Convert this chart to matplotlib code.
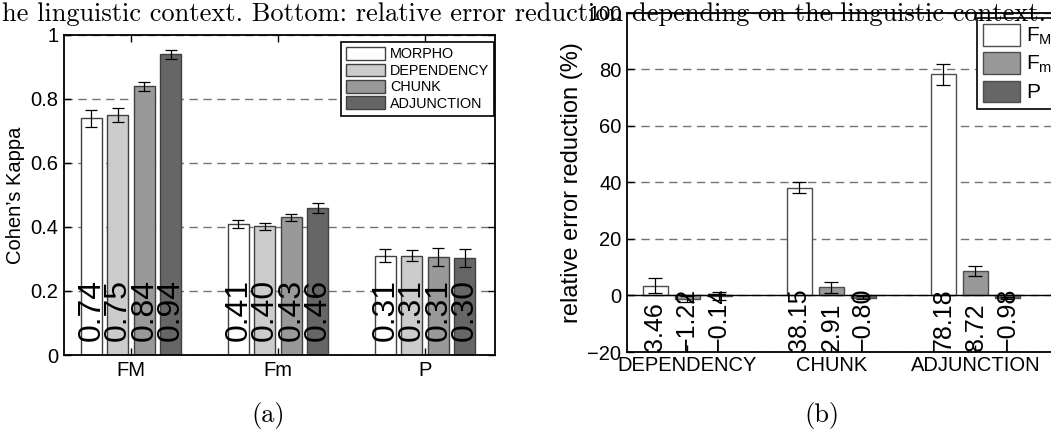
import numpy as np
import matplotlib
matplotlib.use("Agg")
import matplotlib.pyplot as plt

plt.rcParams['font.family'] = ['Liberation Sans', 'DejaVu Sans']
plt.rcParams['mathtext.fontset'] = 'custom'
plt.rcParams['mathtext.rm'] = 'Liberation Sans'

# (a) Cohen's kappa per feature set
groups_a = ['FM', 'Fm', 'P']
series_a = ['MORPHO', 'DEPENDENCY', 'CHUNK', 'ADJUNCTION']
morpho = [0.74, 0.41, 0.31]
dependency = [0.75, 0.403, 0.31]
chunk = [0.84, 0.43, 0.306]
adjunction = [0.94, 0.46, 0.303]
morpho_err = [0.026, 0.013, 0.02]
dependency_err = [0.023, 0.011, 0.017]
chunk_err = [0.014, 0.012, 0.027]
adjunction_err = [0.014, 0.015, 0.029]

# (b) relative error reduction
groups_b = ['DEPENDENCY', 'CHUNK', 'ADJUNCTION']
series_b = ['$\\mathregular{F_M}$', '$\\mathregular{F_m}$', 'P']
f_big = [3.46, 38.15, 78.18]
f_small = [-1.22, 2.91, 8.72]
p_vals = [-0.14, -0.80, -0.98]
f_big_err = [2.6, 1.9, 3.8]
f_small_err = [1.0, 1.9, 1.7]
p_err = [1.5, 0.6, 0.3]

caption = "he linguistic context. Bottom: relative error reduction depending on the linguistic context."

W, H = 1051, 440
fig = plt.figure(figsize=(W / 100, H / 100), dpi=100)


def fmt(v):
    return f"{v:.2f}".replace('-', '\u2212')


def style_axes(ax):
    for s in ax.spines.values():
        s.set_linewidth(1.3)
    ax.tick_params(direction='in', length=5, width=1, top=True, right=True,
                   labelsize=14.5, pad=4)
    ax.yaxis.grid(True, linestyle=(0, (6, 4)), color='0.45', linewidth=1)
    ax.set_axisbelow(True)


# ---- left panel
ax1 = fig.add_axes([64 / W, 85 / H, 431 / W, 320 / H])
colors_a = ['white', '0.8', '0.6', '0.4']
vals_a = [morpho, dependency, chunk, adjunction]
errs_a = [morpho_err, dependency_err, chunk_err, adjunction_err]
x = np.arange(1, len(groups_a) + 1)
step, width = 0.18, 0.143
for i, (name, v, e, c) in enumerate(zip(series_a, vals_a, errs_a, colors_a)):
    xs = x + (i - 1.5) * step
    ax1.bar(xs, v, width, color=c, edgecolor='0.25', linewidth=1, label=name)
    ax1.errorbar(xs, v, yerr=e, fmt='none', ecolor='black', elinewidth=0.9,
                 capsize=4, capthick=0.9)
    for xi, vi in zip(xs, v):
        ax1.text(xi, 0.045, fmt(vi), rotation=90, ha='center', va='bottom',
                 fontsize=23, zorder=5)
ax1.set_xlim(0.544, 3.476)
ax1.set_ylim(0, 1)
ax1.set_xticks(x)
ax1.set_xticklabels(groups_a)
ax1.set_yticks([0, 0.2, 0.4, 0.6, 0.8, 1])
ax1.set_yticklabels(['0', '0.2', '0.4', '0.6', '0.8', '1'])
style_axes(ax1)
ax1.set_ylabel("Cohen\u2019s Kappa", fontsize=14.5)
ax1.yaxis.set_label_coords(-0.0905, 0.5)
leg1 = ax1.legend(loc='upper right', bbox_to_anchor=(0.998, 0.978), borderaxespad=0,
                  fontsize=10.4, handlelength=2.7, handleheight=0.97, labelspacing=0.15,
                  handletextpad=0.35, borderpad=0.35, fancybox=False, edgecolor='black',
                  framealpha=1)
leg1.get_frame().set_linewidth(1.2)

# ---- right panel
ax2 = fig.add_axes([627 / W, 88 / H, 463 / W, 339.3 / H])
colors_b = ['white', '0.6', '0.4']
vals_b = [f_big, f_small, p_vals]
errs_b = [f_big_err, f_small_err, p_err]
xb = np.arange(1, len(groups_b) + 1)
step_b, width_b = 0.222, 0.174
for i, (name, v, e, c) in enumerate(zip(series_b, vals_b, errs_b, colors_b)):
    xs = xb + (i - 1) * step_b
    ax2.bar(xs, v, width_b, color=c, edgecolor='0.3', linewidth=1, label=name)
    ax2.errorbar(xs, v, yerr=e, fmt='none', ecolor='black', elinewidth=0.9,
                 capsize=5, capthick=0.9)
    for xi, vi in zip(xs, v):
        ax2.text(xi, -19.6, fmt(vi), rotation=90, ha='center', va='bottom',
                 fontsize=18, zorder=5)
ax2.axhline(0, color='black', linewidth=1, zorder=1.5)
ax2.set_xlim(0.583, 3.795)
ax2.set_ylim(-20, 100)
ax2.set_xticks(xb)
ax2.set_xticklabels(groups_b)
ax2.set_yticks([-20, 0, 20, 40, 60, 80, 100])
ax2.set_yticklabels(['\u221220', '0', '20', '40', '60', '80', '100'])
style_axes(ax2)
ax2.tick_params(axis='x', pad=3)
ax2.set_ylabel("relative error reduction (%)", fontsize=17)
ax2.yaxis.set_label_coords(-0.095, 0.5)
leg2 = fig.legend(*ax2.get_legend_handles_labels(), loc='upper left',
                  bbox_to_anchor=(977 / W, 1 - 18 / H), borderaxespad=0,
                  fontsize=15, handlelength=1.75, handleheight=1.2, labelspacing=0.25,
                  handletextpad=0.3, borderpad=0.3, fancybox=False, edgecolor='black',
                  framealpha=1)
leg2.get_frame().set_linewidth(1.2)

# caption fragment and sub-figure labels (serif, as in the paper)
fig.text(2 / W, 1 - 21 / H, caption, fontfamily='cmr10', fontsize=19,
         ha='left', va='baseline', zorder=10)
fig.text(268 / W, 1 - 415 / H, '(a)', fontfamily='cmr10', fontsize=19,
         ha='center', va='center')
fig.text(822 / W, 1 - 415 / H, '(b)', fontfamily='cmr10', fontsize=19,
         ha='center', va='center')

fig.savefig('out.png', dpi=100)
